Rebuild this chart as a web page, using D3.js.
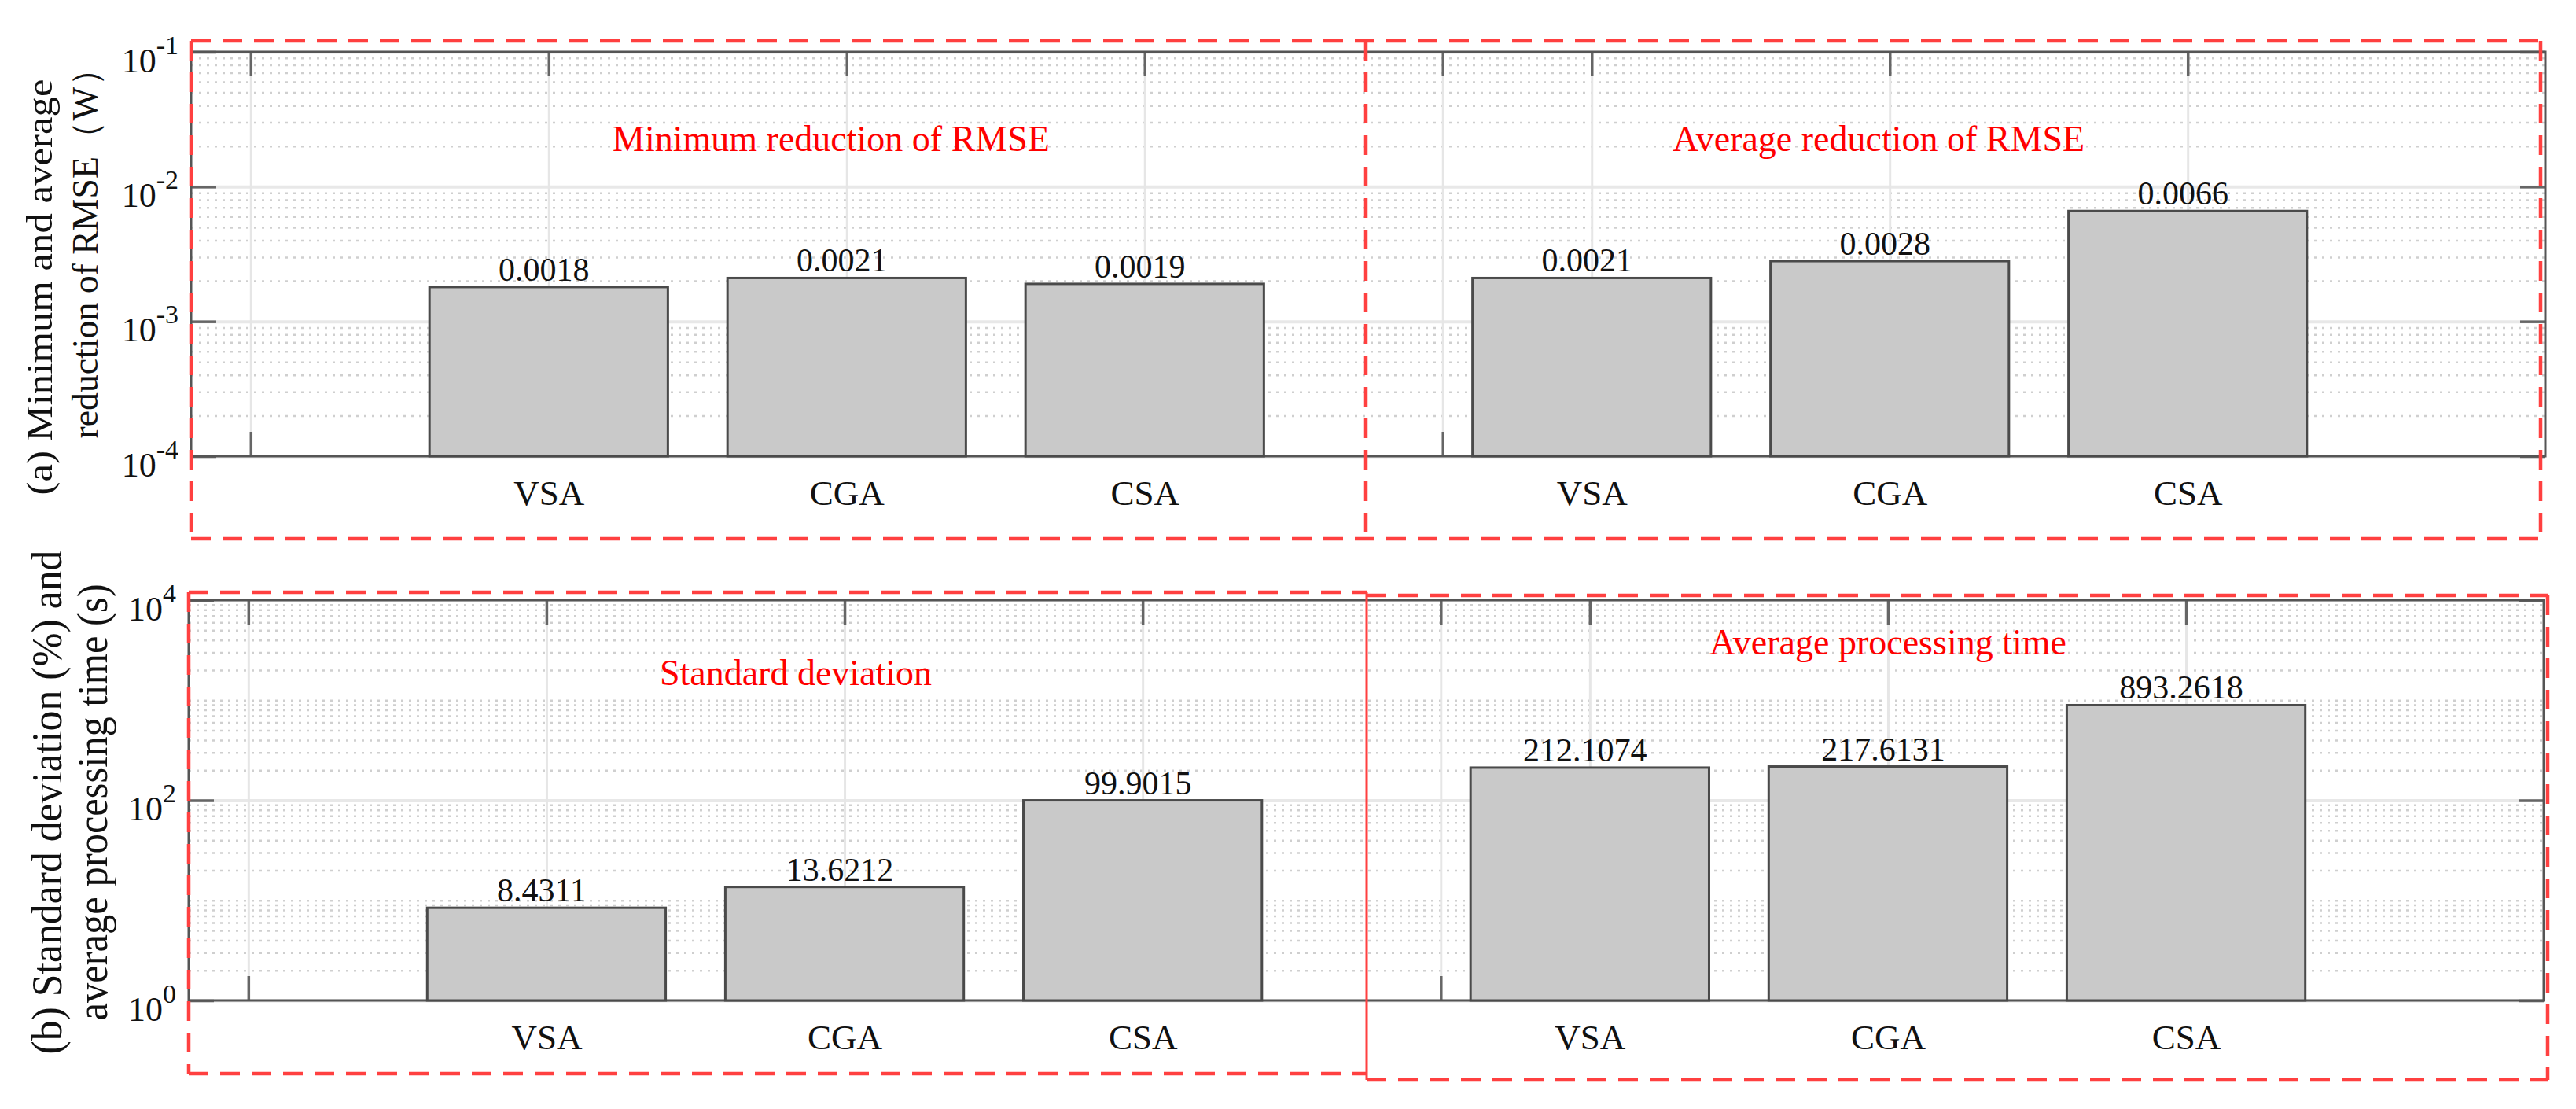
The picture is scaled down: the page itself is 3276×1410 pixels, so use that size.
<!DOCTYPE html>
<html><head><meta charset="utf-8">
<script src="https://cdn.jsdelivr.net/npm/d3@7"></script>
<style>
html,body{margin:0;padding:0;background:#fff;}
svg{display:block;}
text{font-family:"Liberation Serif","Times New Roman",serif;}
</style></head><body>
<svg id="chart" width="3276" height="1410"></svg>
<script>
// ---------------- data ----------------
const categories = ["VSA", "CGA", "CSA"];
const barSlots = [1, 2, 3, 4.5, 5.5, 6.5];           // x data values of the six bars
const xTickValues = [0, 1, 2, 3, 4, 4.5, 5.5, 6.5];
const xDomain = [-0.2, 7.7];

const minRmseReduction = [0.0018, 0.0021, 0.0019];
const avgRmseReduction = [0.0021, 0.0028, 0.0066];
const stdDeviation = [8.4311, 13.6212, 99.9015];
const avgProcessingTime = [212.1074, 217.6131, 893.2618];

const topYDomain = [1e-4, 1e-1];
const topYTicks = [1e-4, 1e-3, 1e-2, 1e-1];
const bottomYDomain = [1, 1e4];
const bottomYTicks = [1, 1e2, 1e4];

const panelTitles = ["Minimum reduction of RMSE", "Average reduction of RMSE",
                     "Standard deviation", "Average processing time"];
const yLabelTop = ["(a) Minimum and average", "reduction of RMSE\uFF08W\uFF09"];
const yLabelBottom = ["(b) Standard deviation (%) and", "average processing time (s)"];

// ---------------- layout ----------------
const svg = d3.select("#chart");
const fmt = d3.format(".4f");

const rows = [
  { series: [minRmseReduction, avgRmseReduction], yDomain: topYDomain, yTicks: topYTicks,
    left: 243, right: 3237, top: 66, bottom: 580,
    titles: [panelTitles[0], panelTitles[1]], titlePos: [[1057, 192], [2389, 192]],
    ylab: yLabelTop, ylabPos: [{bx: 66, cy: 365, len: 529, fs: 46}, {bx: 124, cy: 311, len: 493, fs: 46}] },
  { series: [stdDeviation, avgProcessingTime], yDomain: bottomYDomain, yTicks: bottomYTicks,
    left: 240, right: 3235, top: 763, bottom: 1272,
    titles: [panelTitles[2], panelTitles[3]], titlePos: [[1012, 871], [2401, 832]],
    ylab: yLabelBottom, ylabPos: [{bx: 78, cy: 1020, len: 641, fs: 54}, {bx: 136, cy: 1020, len: 555, fs: 54}] }
];

function minorValues(domain, majors) {
  const out = [];
  const d0 = Math.round(Math.log10(domain[0])), d1 = Math.round(Math.log10(domain[1]));
  for (let d = d0; d < d1; d++) {
    for (let k = 1; k <= 9; k++) {
      const v = k * Math.pow(10, d);
      if (v <= domain[0] * 1.000001) continue;
      if (majors.some(m => Math.abs(v / m - 1) < 1e-9)) continue;
      out.push(v);
    }
  }
  return out;
}

rows.forEach(row => {
  const W = row.right - row.left, H = row.bottom - row.top;
  const x = d3.scaleLinear().domain(xDomain).range([row.left, row.right]);
  const y = d3.scaleLog().domain(row.yDomain).range([row.bottom, row.top]);
  const g = svg.append("g");

  // minor dotted grid
  const minor = g.append("g").attr("transform", `translate(${row.left},0)`)
    .call(d3.axisLeft(y).tickValues(minorValues(row.yDomain, row.yTicks)).tickSize(-W).tickFormat(""));
  minor.select(".domain").remove();
  minor.selectAll("line").attr("stroke", "#cfcfcf").attr("stroke-width", 2.5).attr("stroke-dasharray", "3,7");

  // major horizontal grid
  const major = g.append("g").attr("transform", `translate(${row.left},0)`)
    .call(d3.axisLeft(y).tickValues(row.yTicks).tickSize(-W).tickFormat(""));
  major.select(".domain").remove();
  major.selectAll("line").attr("stroke", "#e8e8e8").attr("stroke-width", 4);

  // vertical grid
  const vgrid = g.append("g").attr("transform", `translate(0,${row.bottom})`)
    .call(d3.axisBottom(x).tickValues(xTickValues).tickSize(-H).tickFormat(""));
  vgrid.select(".domain").remove();
  vgrid.selectAll("line").attr("stroke", "#e6e6e6").attr("stroke-width", 3);

  // inward ticks on four sides
  const tickColor = "#666";
  const axL = g.append("g").attr("transform", `translate(${row.left},0)`)
    .call(d3.axisLeft(y).tickValues(row.yTicks).tickSize(-32).tickPadding(16)
      .tickFormat(v => "10"));
  axL.select(".domain").remove();
  axL.selectAll("line").attr("stroke", tickColor).attr("stroke-width", 3.5);
  axL.selectAll("text").attr("fill", "#111").attr("font-size", 44).attr("dy", 25)
    .attr("font-family", "Liberation Serif")
    .each(function(v) {
      d3.select(this).append("tspan").attr("dy", -23).attr("font-size", 34)
        .text(String(Math.round(Math.log10(v))));
    });

  const axR = g.append("g").attr("transform", `translate(${row.right},0)`)
    .call(d3.axisRight(y).tickValues(row.yTicks).tickSize(-32).tickFormat(""));
  axR.select(".domain").remove();
  axR.selectAll("line").attr("stroke", tickColor).attr("stroke-width", 3.5);

  const axT = g.append("g").attr("transform", `translate(0,${row.top})`)
    .call(d3.axisTop(x).tickValues(xTickValues).tickSize(-31).tickFormat(""));
  axT.select(".domain").remove();
  axT.selectAll("line").attr("stroke", tickColor).attr("stroke-width", 3.5);

  const axB = g.append("g").attr("transform", `translate(0,${row.bottom})`)
    .call(d3.axisBottom(x).tickValues(xTickValues).tickSize(-31).tickFormat(""));
  axB.select(".domain").remove();
  axB.selectAll("line").attr("stroke", tickColor).attr("stroke-width", 3.5);

  // axes box
  g.append("rect").attr("x", row.left).attr("y", row.top).attr("width", W).attr("height", H)
    .attr("fill", "none").attr("stroke", "#555").attr("stroke-width", 3);

  // bars
  const values = row.series[0].concat(row.series[1]);
  const data = values.map((v, i) => ({ v, xv: barSlots[i], cat: categories[i % 3] }));
  const bw = x(0.8) - x(0);
  g.append("g").selectAll("rect").data(data).join("rect")
    .attr("x", d => x(d.xv) - bw / 2).attr("y", d => y(d.v))
    .attr("width", bw).attr("height", d => y(row.yDomain[0]) - y(d.v))
    .attr("fill", "#c9c9c9").attr("stroke", "#4a4a4a").attr("stroke-width", 3);

  // value labels
  g.append("g").selectAll("text").data(data).join("text")
    .attr("x", d => x(d.xv) - 6).attr("y", d => y(d.v) - 8)
    .attr("text-anchor", "middle").attr("font-size", 42).attr("fill", "#111")
    .text(d => fmt(d.v));

  // category labels (x axis)
  const axCat = g.append("g").attr("transform", `translate(0,${row.bottom})`)
    .call(d3.axisBottom(x).tickValues(barSlots).tickSize(0).tickPadding(62)
      .tickFormat((v, i) => categories[i % 3]));
  axCat.select(".domain").remove();
  axCat.selectAll("text").attr("dy", 0).attr("font-size", 45).attr("fill", "#111")
    .attr("font-family", "Liberation Serif");

  // red panel titles
  row.titles.forEach((t, i) => {
    g.append("text").attr("x", row.titlePos[i][0]).attr("y", row.titlePos[i][1])
      .attr("text-anchor", "middle").attr("font-size", 46).attr("fill", "#ff0000").text(t);
  });

  // y labels
  row.ylab.forEach((t, i) => {
    const p = row.ylabPos[i];
    g.append("text").attr("transform", `translate(${p.bx},${p.cy}) rotate(-90)`)
      .attr("text-anchor", "middle").attr("font-size", p.fs).attr("fill", "#111")
      .attr("textLength", p.len).attr("lengthAdjust", "spacingAndGlyphs").text(t);
  });
});

// ---------------- red dashed frames ----------------
const red = "#ff4040";
const dashed = [
  [243, 52, 3232, 52], [243, 685, 3232, 685], [243, 52, 243, 685], [3231, 52, 3231, 685], [1737, 52, 1737, 685],
  [240, 753, 1738, 753], [240, 1365, 1738, 1365], [240, 753, 240, 1365],
  [1738, 757, 3240, 757], [1738, 1373, 3240, 1373], [3240, 757, 3240, 1373]
];
svg.append("g").selectAll("line").data(dashed).join("line")
  .attr("x1", d => d[0]).attr("y1", d => d[1]).attr("x2", d => d[2]).attr("y2", d => d[3])
  .attr("stroke", red).attr("stroke-width", 4.5).attr("stroke-dasharray", "25,15");
svg.append("line").attr("x1", 1738).attr("y1", 753).attr("x2", 1738).attr("y2", 1373)
  .attr("stroke", red).attr("stroke-width", 3);
</script>
</body></html>
